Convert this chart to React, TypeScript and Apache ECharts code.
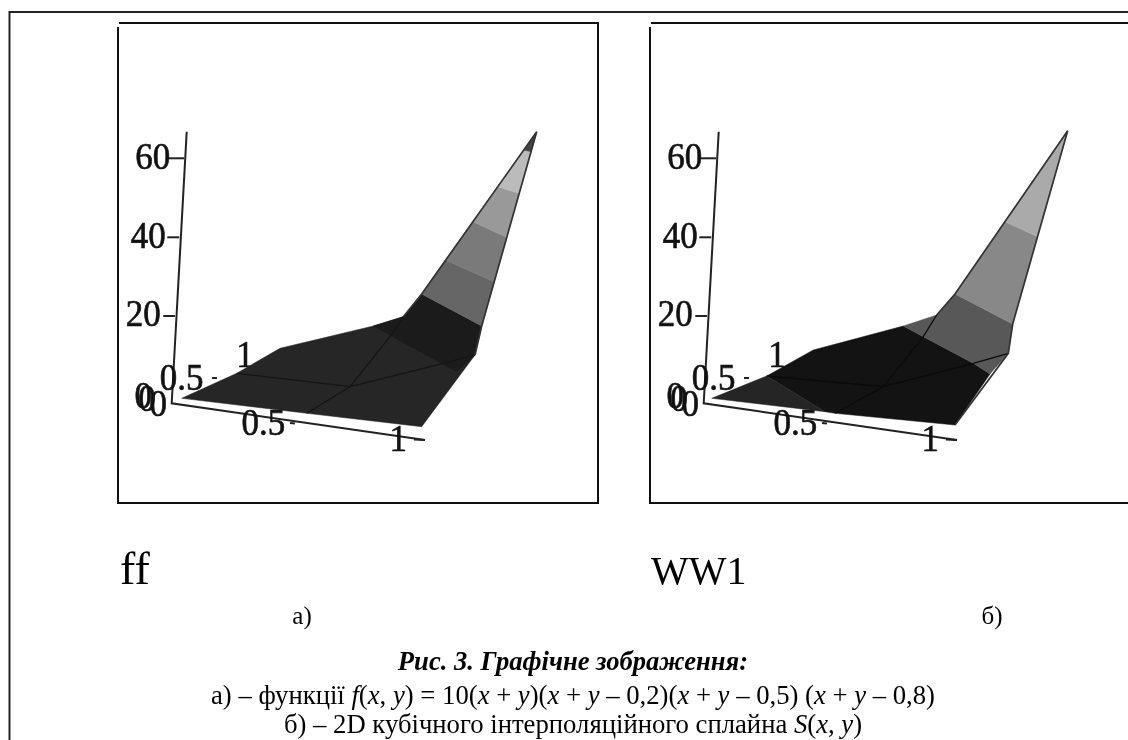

import React, { useEffect, useRef } from "react";
import * as echarts from "echarts";

const SERIF = '"Liberation Serif", serif';

// Projected surface vertices, in plot units of each panel
const leftPatches: number[][][] = [
  [[63.7,375.3],[118.7,350.3],[162,325.3],[255.3,303],[285.3,293.7],[357,332],[303.7,403.7],[188.7,390.3]],
  [[255.3,303],[285.3,293.7],[303.7,271],[363.7,303],[357,332],[338.7,348.7]],
  [[303.7,271],[327.3,237],[376.2,258.7],[363.7,303]],
  [[327.3,237],[354.7,198.7],[388.7,214.3],[376.2,258.7]],
  [[354.7,198.7],[379.7,163.7],[401.2,170.3],[388.7,214.3]],
  [[379.7,163.7],[405.7,127],[413,128.7],[401.2,170.3]],
  [[405.7,127],[418.7,108.7],[413,128.7]],
];
const leftShades = ["#262626","#1b1b1b","#666666","#7a7a7a","#999999","#bbbbbb","#444444"];
const leftMesh: number[][][] = [
  [[118.7,350.3],[232,363.7],[325.3,340.3],[357,332]],
  [[188.7,390.3],[232,363.7],[272,313.7],[285.3,293.7]],
];
const leftEdge: number[][] = [[285.3,293.7],[303.7,271],[418.7,108.7],[363.7,303],[357,332]];

const rightPatches: number[][][] = [
  [[116.7,353],[163.3,327],[253.3,303],[273.3,313.7],[323.3,340.3],[340,351],[305,402],[185,390.3],[175,388.7]],
  [[61.7,375.3],[116.7,353],[175,388.7]],
  [[253.3,303],[286.7,292],[273.3,313.7]],
  [[273.3,313.7],[286.7,292],[305,271],[362.7,301],[358.3,330.3],[323.3,340.3]],
  [[323.3,340.3],[358.3,330.3],[340,351]],
  [[305,271],[354.9,198.7],[387.5,213.7],[362.7,301]],
  [[354.9,198.7],[417.7,107.7],[387.5,213.7]],
];
const rightShades = ["#131313","#252525","#585858","#585858","#585858","#888888","#aaaaaa"];
const rightMesh: number[][][] = [
  [[116.7,353],[233.3,363.7],[323.3,340.3],[358.3,330.3]],
  [[185,390.3],[233.3,363.7],[273.3,313.7],[286.7,292]],
];
const rightEdge: number[][] = [[286.7,292],[305,271],[417.7,107.7],[362.7,301],[358.3,330.3],[305,402]];

// Axes drawn in the same projected units
const axisLines: number[][][] = [
  [[68.7,108.7],[53.7,380.3],[307,417]],
  [[50.3,135.3],[66,135.3]],
  [[49.3,214.3],[61.3,214.3]],
  [[45.3,293],[57,293]],
  [[172,400],[177,400.6]],
  [[296,416.5],[307,417]],
  [[94,355],[99,355]],
];
const tickLabels = ["60","40","20","0.5","1","0","0","0","0.5","1"];
const tickLabelPositions: number[][] = [
  [34.7,133],[30.3,212],[25.3,289.7],[63.7,353.7],[127,331.3],
  [25.3,372],[29,375],[40.3,380],[145.3,398.7],[280.3,415.3],
];

const captionTitle = "Рис. 3. Графічне зображення:";
const lineA: [string, boolean][] = [
  ["а) – функції ",false],["f",true],["(",false],["x",true],[", ",false],["y",true],[") = 10(",false],
  ["x",true],[" + ",false],["y",true],[")(",false],["x",true],[" + ",false],["y",true],[" – 0,2)(",false],
  ["x",true],[" + ",false],["y",true],[" – 0,5) (",false],["x",true],[" + ",false],["y",true],[" – 0,8)",false],
];
const lineB: [string, boolean][] = [
  ["б) – 2D кубічного інтерполяційного сплайна ",false],["S",true],["(",false],["x",true],[", ",false],["y",true],[")",false],
];

const richText = (parts: [string, boolean][]) =>
  parts.map(([t, it]) => `{${it ? "i" : "n"}|${t}}`).join("");

const plotText = (x: number, y: number, text: string, size: number, extra: any = {}) => ({
  type: "text", x, y, silent: true,
  style: { text, fontFamily: SERIF, fontSize: size, fill: "#000", align: "center", verticalAlign: "middle", ...extra },
});
const frame = (points: number[][], width = 2, color = "#111") => ({
  type: "polyline", silent: true,
  shape: { points },
  style: { stroke: color, lineWidth: width, fill: "none" },
});

function panelSeries(gridIndex: number, patches: number[][][], shades: string[], mesh: number[][][], edge: number[][], lineCol: string): any[] {
  const common = { type: "custom", xAxisIndex: gridIndex, yAxisIndex: gridIndex, clip: false, silent: true };
  return [
    {
      ...common, name: "axes" + gridIndex, z: 2, data: axisLines.map((_, i) => [i]),
      renderItem: (_p: any, api: any) => ({
        type: "polyline",
        shape: { points: axisLines[api.value(0)].map((p) => api.coord(p)) },
        style: { stroke: "#222", lineWidth: 2, fill: "none" },
      }),
    },
    {
      ...common, name: "labels" + gridIndex, z: 3, data: tickLabels.map((_, i) => [i]),
      renderItem: (_p: any, api: any) => {
        const i = api.value(0);
        const c = api.coord(tickLabelPositions[i]);
        return { type: "text", x: c[0], y: c[1], scaleY: 1.1, style: { text: tickLabels[i], fontFamily: SERIF, fontSize: 35, fill: "#111", stroke: "#111", lineWidth: 0.6, align: "center", verticalAlign: "middle" } };
      },
    },
    {
      ...common, name: "surface" + gridIndex, z: 4, data: patches.map((_, i) => [i]),
      renderItem: (_p: any, api: any) => {
        const i = api.value(0);
        return { type: "polygon", shape: { points: patches[i].map((p) => api.coord(p)) }, style: { fill: shades[i], stroke: shades[i], lineWidth: 0.5 } };
      },
    },
    {
      ...common, name: "mesh" + gridIndex, z: 5, data: mesh.map((_, i) => [i]),
      renderItem: (_p: any, api: any) => ({
        type: "polyline",
        shape: { points: mesh[api.value(0)].map((p) => api.coord(p)) },
        style: { stroke: lineCol, lineWidth: 1.3, fill: "none" },
      }),
    },
    {
      ...common, name: "edge" + gridIndex, z: 5, data: [[0]],
      renderItem: (_p: any, api: any) => ({
        type: "polyline",
        shape: { points: edge.map((p) => api.coord(p)) },
        style: { stroke: "#333", lineWidth: 1.7, fill: "none" },
      }),
    },
  ];
}

export default function App() {
  const ref = useRef<HTMLDivElement>(null);
  useEffect(() => {
    document.body.style.margin = "0";
    const chart = echarts.init(ref.current!, undefined, { renderer: "svg" });
    const hiddenAxis = (gridIndex: number, max: number, inverse = false) => ({
      type: "value", gridIndex, min: 0, max, inverse, show: false,
    });
    const rich = {
      n: { fontFamily: SERIF, fontSize: 26.7, fill: "#000" },
      i: { fontFamily: SERIF, fontSize: 26.7, fontStyle: "italic", fill: "#000" },
    };
    chart.setOption({
      animation: false,
      backgroundColor: "#fff",
      grid: [
        { left: 118, top: 23, width: 480, height: 480 },
        { left: 650, top: 23, width: 478, height: 480 },
      ],
      xAxis: [hiddenAxis(0, 480), hiddenAxis(1, 478)],
      yAxis: [hiddenAxis(0, 480, true), hiddenAxis(1, 480, true)],
      series: [
        ...panelSeries(0, leftPatches, leftShades, leftMesh, leftEdge, "#151515"),
        ...panelSeries(1, rightPatches, rightShades, rightMesh, rightEdge, "#0a0a0a"),
      ],
      graphic: [
        frame([[9.5,740],[9.5,12],[1128,12]], 2, "#222"),
        frame([[119,23],[598,23],[598,503],[117,503]]),
        frame([[118,27],[118,503]]),
        frame([[651,23],[1128,23]]),
        frame([[650,27],[650,503],[1128,503]]),
        plotText(120, 568, "ff", 46, { align: "left" }),
        plotText(651, 570, "WW1", 40, { align: "left" }),
        plotText(302, 615, "а)", 25),
        plotText(992, 615, "б)", 25),
        plotText(573, 661, captionTitle, 26.6, { fontWeight: "bold", fontStyle: "italic" }),
        { type: "text", x: 573, y: 695, silent: true, style: { text: richText(lineA), rich, align: "center", verticalAlign: "middle", fontFamily: SERIF, fontSize: 26.7 } },
        { type: "text", x: 573, y: 724, silent: true, style: { text: richText(lineB), rich, align: "center", verticalAlign: "middle", fontFamily: SERIF, fontSize: 26.7 } },
      ],
    });
    return () => chart.dispose();
  }, []);
  return <div ref={ref} style={{ position: "fixed", left: 0, top: 0, width: 1128, height: 740, filter: "blur(0.4px)" }} />;
}
